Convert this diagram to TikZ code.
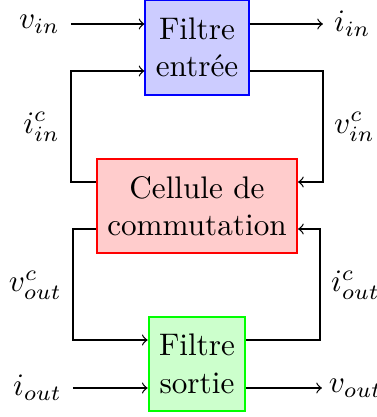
\documentclass[tikz,border=0pt]{standalone}
\begin{document}
\begin{tikzpicture}[x=0.3205pt,y=-0.3205pt,
  box/.style={draw, semithick, align=center, minimum height=30.2pt, inner sep=3.33pt},
  conn/.style={->}]
\useasboundingbox (0,0) rectangle (376,417);
% blocks
\node[box, draw=blue, fill=blue!20] (fin) at (197,47.5) {Filtre\\entrée};
\node[box, draw=red, fill=red!20] (cell) at (197,206) {Cellule de\\commutation};
\node[box, draw=green, fill=green!20] (fout) at (197,364) {Filtre\\sortie};
% corner coordinates
\coordinate (c1) at (71,182);
\coordinate (c2) at (71,71);
\coordinate (c3) at (323,71);
\coordinate (c4) at (323,182);
\coordinate (c5) at (73,229);
\coordinate (c6) at (73,340);
\coordinate (c7) at (320,340);
\coordinate (c8) at (320,229);
% outer labels
\node[anchor=east] (vin) at (71,24) {$v_{in}$};
\node[anchor=west] (iin) at (323,24) {$i_{in}$};
\node[anchor=east] (iout) at (73,388) {$i_{out}$};
\node[anchor=west, inner sep=2pt] (vout) at (322,388) {$v_{out}$};
% side labels
\node[anchor=east] (iinc) at (71,127) {$i^c_{in}$};
\node[anchor=west] (vinc) at (323,127) {$v^c_{in}$};
\node[anchor=east] (voutc) at (73,285) {$v^c_{out}$};
\node[anchor=west] (ioutc) at (320,285) {$i^c_{out}$};
% connectors
\draw[conn] (vin.east) -- (vin.east -| fin.west);
\draw[conn] (fin.east |- iin) -- (iin.west);
\draw[conn] (iout.east) -- (iout.east -| fout.west);
\draw[conn] (fout.east |- vout) -- (vout.west);
\draw[conn] (cell.west |- c1) -- (c1) -- (c2) -- (c2 -| fin.west);
\draw[conn] (fin.east |- c3) -- (c3) -- (c4) -- (c4 -| cell.east);
\draw[conn] (cell.west |- c5) -- (c5) -- (c6) -- (c6 -| fout.west);
\draw[conn] (fout.east |- c7) -- (c7) -- (c8) -- (c8 -| cell.east);
\end{tikzpicture}
\end{document}
